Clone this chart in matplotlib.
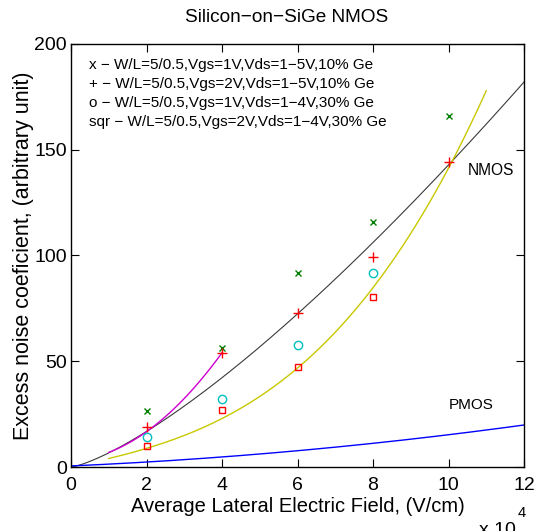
import numpy as np
import matplotlib
matplotlib.use("Agg")
import matplotlib.pyplot as plt

plt.rcParams['font.family'] = ['Liberation Sans', 'DejaVu Sans']

# Measured excess noise coefficient vs. average lateral field (x 1e4 V/cm)
field = [2, 4, 6, 8, 10]
k_vgs1_10ge = [26.5, 56.3, 91.6, 115.8, 166.0]   # x  : Vgs=1V, Vds=1-5V, 10% Ge
k_vgs2_10ge = [19.0, 54.0, 72.8, 99.2, 144.0]    # +  : Vgs=2V, Vds=1-5V, 10% Ge
field_30ge = [2, 4, 6, 8]
k_vgs1_30ge = [14.1, 32.0, 57.8, 91.7]           # o  : Vgs=1V, Vds=1-4V, 30% Ge
k_vgs2_30ge = [9.9, 26.9, 47.2, 80.3]            # sqr: Vgs=2V, Vds=1-4V, 30% Ge

# Model curves (fit coefficients)
nmos_a, nmos_b = 6.68, 1.33                      # y = a * x^b
fit30_coef = [0.0918, 0.115, 3.80, 0.0]          # cubic, 30% Ge fit, x in [1, 11]
fit10_coef = [2.95, 0.95, 3.0]                   # quadratic, 10% Ge fit, x in [1, 4]
pmos_coef = [0.069, 0.785, 0.5]                  # quadratic, PMOS reference

legend_lines = [
    "x \u2212 W/L=5/0.5,Vgs=1V,Vds=1\u22125V,10% Ge",
    "+ \u2212 W/L=5/0.5,Vgs=2V,Vds=1\u22125V,10% Ge",
    "o \u2212 W/L=5/0.5,Vgs=1V,Vds=1\u22124V,30% Ge",
    "sqr \u2212 W/L=5/0.5,Vgs=2V,Vds=1\u22124V,30% Ge",
]

W, H = 535, 531
fig = plt.figure(figsize=(W / 100, H / 100), dpi=100)
ax = fig.add_axes([71 / W, 1 - 467 / H, (524 - 71) / W, (467 - 44) / H])

x_all = np.linspace(0, 12, 300)
ax.plot(x_all, nmos_a * x_all ** nmos_b, color='#3a3a3a', lw=0.8)
ax.plot(x_all, np.polyval(pmos_coef, x_all), color='#0000ff', lw=1.0)
x30 = np.linspace(1, 11, 200)
ax.plot(x30, np.polyval(fit30_coef, x30), color='#c8c800', lw=1.0)
x10 = np.linspace(1, 4, 100)
ax.plot(x10, np.polyval(fit10_coef, x10), color='#d000d0', lw=1.0)

ax.plot(field, k_vgs1_10ge, 'x', color='#008000', ms=4, mew=1.0)
ax.plot(field, k_vgs2_10ge, '+', color='#ff0000', ms=7, mew=1.0)
ax.plot(field_30ge, k_vgs1_30ge, 'o', color='#00c0c0', mfc='none', ms=6, mew=1.0)
ax.plot(field_30ge, k_vgs2_30ge, 's', color='#ff0000', mfc='none', ms=5, mew=1.0)

for i, line in enumerate(legend_lines):
    ax.text(0.48, 190 - 9.0 * i, line, fontsize=11, va='center', ha='left')

ax.text(10.5, 140, "NMOS", fontsize=11.2, va='center', ha='left')
ax.text(10.0, 29.3, "PMOS", fontsize=11, va='center', ha='left')

ax.set_xlim(0, 12)
ax.set_ylim(0, 200)
ax.set_xticks([0, 2, 4, 6, 8, 10, 12])
ax.set_yticks([0, 50, 100, 150, 200])
ax.tick_params(axis='both', direction='in', top=True, right=True, length=6,
               width=0.8, labelsize=14)
ax.tick_params(axis='x', pad=7)
ax.tick_params(axis='y', pad=3)
for s in ax.spines.values():
    s.set_linewidth(1.0)

ax.set_title("Silicon\u2212on\u2212SiGe NMOS", fontsize=13.7, x=0.475, pad=15.5)
ax.set_xlabel("Average Lateral Electric Field, (V/cm)", fontsize=14.5, labelpad=2)
ax.set_ylabel("Excess noise coeficient, (arbitrary unit)", fontsize=15.5, labelpad=0.5)

fig.text(479 / W, 1 - 522 / H, "x 10", fontsize=14, va='top', ha='left')
fig.text(518 / W, 1 - 506 / H, "4", fontsize=10.5, va='top', ha='left')

fig.savefig("out.png", dpi=100)
